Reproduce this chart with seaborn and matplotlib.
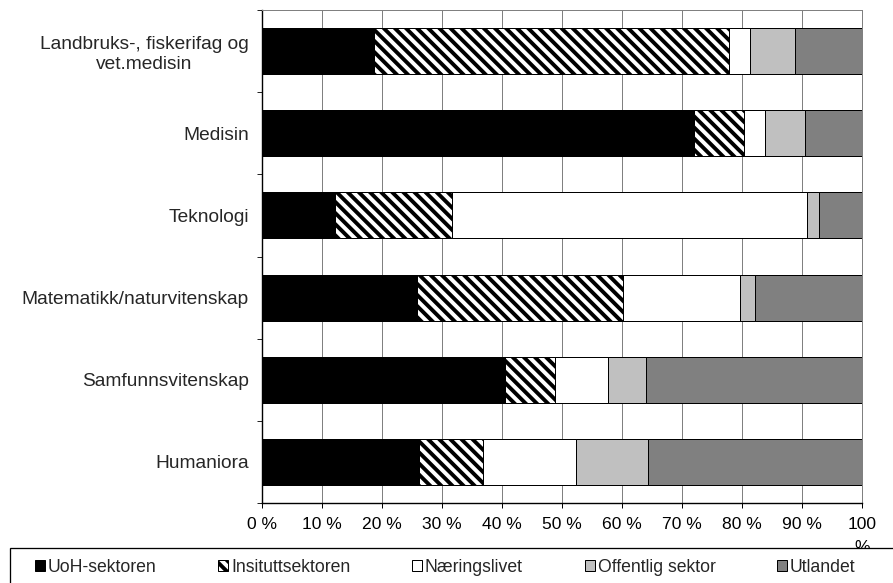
import numpy as np
import pandas as pd
import seaborn as sns
import matplotlib.pyplot as plt
from matplotlib.patches import Patch, Rectangle

# verdier lest av figuren (prosent)
kategorier = ['Landbruks-, fiskerifag og\nvet.medisin', 'Medisin', 'Teknologi',
              'Matematikk/naturvitenskap', 'Samfunnsvitenskap', 'Humaniora']
uoh = [18.6, 72.0, 12.1, 25.8, 40.5, 26.2]
institutt = [59.2, 8.3, 19.5, 34.3, 8.4, 10.7]
naering = [3.6, 3.6, 59.2, 19.6, 8.7, 15.5]
offentlig = [7.5, 6.6, 2.1, 2.4, 6.4, 11.9]
utland = [11.1, 9.5, 7.1, 17.9, 36.0, 35.7]

serier = ['UoH-sektoren', 'Insituttsektoren', 'Næringslivet', 'Offentlig sektor', 'Utlandet']
farger = ['#000000', '#ffffff', '#ffffff', '#c0c0c0', '#808080']
skravur = [None, '\\\\\\', None, None, None]
xtick_labels = [f'{v} %' for v in range(0, 100, 10)] + ['100\n%']

DPI = 100
W, H = 893, 583


def pt(px):
    return px * 72 / DPI


df = pd.DataFrame({'kategori': kategorier, serier[0]: uoh, serier[1]: institutt,
                   serier[2]: naering, serier[3]: offentlig, serier[4]: utland})
cum = df[serier].cumsum(axis=1)
cum['kategori'] = df['kategori']

sns.set_style('white')
plt.rcParams['font.family'] = ['Liberation Sans', 'DejaVu Sans']
plt.rcParams['hatch.linewidth'] = pt(3.9)

fig = plt.figure(figsize=(W / DPI, H / DPI), dpi=DPI)
ax = fig.add_axes([262 / W, 1 - 503 / H, 600 / W, 493 / H])

# stablede stolper: tegn kumulative summer bakfra
for s, c, h in reversed(list(zip(serier, farger, skravur))):
    sns.barplot(data=cum, x=s, y='kategori', order=kategorier, orient='h',
                color=c, saturation=1, hatch=h, edgecolor='black',
                linewidth=pt(1), width=0.56, errorbar=None, ax=ax)

ax.set_xlim(0, 100)
ax.set_ylim(5.5, -0.5)
ax.set_xlabel('')
ax.set_ylabel('')
ax.set_axisbelow(True)
ax.xaxis.grid(True, color='#808080', lw=pt(1))
ax.yaxis.grid(False)

ax.set_xticks(range(0, 101, 10))
ax.set_xticklabels(xtick_labels)
ax.set_yticks(np.arange(-0.5, 6), minor=True)
ax.tick_params(axis='x', bottom=True, direction='out', length=pt(5), width=pt(1),
               pad=pt(9), labelsize=pt(17.5), colors='black')
ax.tick_params(axis='y', which='major', left=True, length=0, pad=pt(13), labelsize=pt(19.2))
ax.tick_params(axis='y', which='minor', left=True, direction='out', length=pt(5), width=pt(1))
for t in ax.get_yticklabels() + ax.get_xticklabels():
    t.set_multialignment('center')
ax.get_xticklabels()[-1].set_linespacing(1.7)

for side in ['left', 'bottom']:
    ax.spines[side].set_color('black')
    ax.spines[side].set_linewidth(pt(1.4))
for side in ['top', 'right']:
    ax.spines[side].set_color('#808080')
    ax.spines[side].set_linewidth(pt(1))

# legendeboks nederst
fig.add_artist(Rectangle((10 / W, -0.1), 1.2, (583 - 548) / H + 0.1,
                         transform=fig.transFigure, facecolor='white',
                         edgecolor='black', lw=pt(1.3), zorder=2))
handles = [Patch(facecolor=c, edgecolor='black', hatch=h, lw=pt(1))
           for c, h in zip(farger, skravur)]
fs = 17.6
fig.legend(handles, serier, loc='center left', bbox_to_anchor=(35 / W, 1 - 567 / H),
           ncol=5, frameon=False, borderpad=0, borderaxespad=0,
           handlelength=10 / fs, handleheight=10 / fs, handletextpad=0.15,
           columnspacing=62 / fs, fontsize=pt(fs))

fig.savefig('out.png', dpi=DPI)
